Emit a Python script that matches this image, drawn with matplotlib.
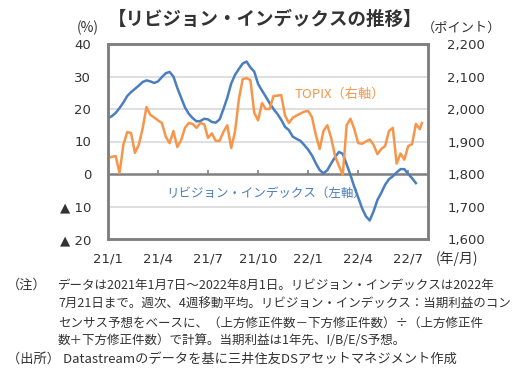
import matplotlib.pyplot as plt
import pandas as pd

plt.rcParams['font.family'] = ['Noto Sans CJK JP', 'DejaVu Sans']

# weekly dates (Thursday), TOPIX has one more point on 2022-08-01
rev_dates = pd.date_range('2021-01-07', periods=81, freq='7D')
topix_dates = list(pd.date_range('2021-01-07', periods=82, freq='7D')) + [pd.Timestamp('2022-08-01')]

# revision index (%), left axis
revision = [17.2, 17.8, 18.8, 20.3, 22.0, 24.0, 25.2, 26.2, 27.2, 28.3,
            28.8, 28.5, 28.0, 28.5, 29.8, 31.0, 31.4, 30.0, 26.5, 23.5,
            20.5, 18.5, 17.2, 16.2, 16.3, 17.0, 16.8, 16.0, 15.8, 16.8,
            20.0, 23.5, 27.8, 30.5, 32.3, 34.0, 34.6, 32.8, 31.5, 27.7,
            25.7, 23.8, 21.8, 20.0, 18.5, 16.7, 14.5, 13.5, 11.5, 10.8,
            10.2, 8.9, 7.5, 5.7, 3.3, 1.2, 0.2, 1.2, 3.3, 5.2,
            6.8, 6.2, 3.0, -0.3, -4.0, -7.2, -10.5, -13.0, -14.3, -11.5,
            -8.0, -5.8, -3.3, -1.6, -0.7, 0.5, 1.5, 1.5, 0.0, -1.3,
            -2.8]

# TOPIX (points), right axis
topix = [1849, 1853, 1855, 1803, 1890, 1929, 1926, 1865, 1890, 1940,
         2006, 1982, 1974, 1965, 1957, 1915, 1895, 1932, 1883, 1904,
         1942, 1957, 1954, 1942, 1957, 1953, 1911, 1925, 1902, 1902,
         1930, 1950, 1880, 1930, 2030, 2092, 2095, 2089, 1988, 1965,
         2018, 2000, 2000, 2040, 2041, 2043, 1980, 1957, 1973, 1980,
         1986, 1992, 1994, 1975, 1920, 1877, 1933, 1950, 1910, 1855,
         1825, 1797, 1950, 1970, 1938, 1895, 1893, 1900, 1906, 1890,
         1861, 1877, 1886, 1932, 1942, 1832, 1863, 1844, 1886, 1892,
         1954, 1938, 1957]

left_ticks = [40, 30, 20, 10, 0, -10, -20]
left_labels = ['40', '30', '20', '10', '0', '▲ 10', '▲ 20']
right_ticks = [1600, 1700, 1800, 1900, 2000, 2100, 2200]
x_labels = ['21/1', '21/4', '21/7', '21/10', '22/1', '22/4', '22/7']
x_ticks = pd.date_range('2021-01-07', periods=7, freq='91D')

blue = '#4a7ebf'
orange = '#f7964a'
frame = '#7f7f7f'
txt = '#333333'

fig = plt.figure(figsize=(5.27, 3.76), dpi=100)
ax = fig.add_axes([108 / 527, 1 - 239 / 376, 320 / 527, 195 / 376])
ax2 = ax.twinx()

ax.set_ylim(-20, 40)
ax2.set_ylim(1600, 2200)
ax.set_xlim(pd.Timestamp('2021-01-07'), pd.Timestamp('2022-08-12'))

for y in [30, 20, 10, -10]:
    ax.axhline(y, color='#d9d9d9', lw=1.2, zorder=0)
ax.axhline(0, color=frame, lw=1.8, zorder=1)
ax.vlines(x_ticks, 0, 1.3, color=frame, lw=1.2)

ax.plot(rev_dates, revision, color=blue, lw=1.8, zorder=3)
ax2.plot(topix_dates, topix, color=orange, lw=1.8)

for a in (ax, ax2):
    for s in a.spines.values():
        s.set_color(frame)
        s.set_linewidth(1.8)

ax.set_yticks(left_ticks)
ax.set_yticklabels(left_labels, family='DejaVu Sans')
ax2.set_yticks(right_ticks)
ax2.set_yticklabels([f'{v:,}' for v in right_ticks], family='DejaVu Sans')
ax.set_xticks(x_ticks)
ax.set_xticklabels(x_labels, family='DejaVu Sans')
ax.tick_params(axis='y', length=0, labelsize=9.5, labelcolor=txt, pad=12)
ax2.tick_params(axis='y', length=0, labelsize=9.5, labelcolor=txt, pad=14)
ax.tick_params(axis='x', length=0, labelsize=9.5, labelcolor=txt, pad=10)

fig.text(265 / 527, 1 - 19 / 376, '【リビジョン・インデックスの推移】', ha='center', va='center',
         fontsize=13.3, fontweight='bold', color=txt)
fig.text(88 / 527, 1 - 28 / 376, '(%)', ha='center', va='center', fontsize=10, color=txt)
fig.text(462 / 527, 1 - 28 / 376, '（ポイント）', ha='center', va='center', fontsize=9.5, color=txt)
fig.text(457 / 527, 1 - 259 / 376, '(年/月)', ha='center', va='center', fontsize=10, color=txt)

fig.text(340 / 527, 1 - 94 / 376, 'TOPIX（右軸）', ha='center', va='center', fontsize=9.5, color=orange)
fig.text(266 / 527, 1 - 193 / 376, 'リビジョン・インデックス（左軸）', ha='center', va='center',
         fontsize=9, color=blue)

notes = ['データは2021年1月7日～2022年8月1日。リビジョン・インデックスは2022年',
         '7月21日まで。週次、4週移動平均。リビジョン・インデックス：当期利益のコン',
         'センサス予想をベースに、（上方修正件数－下方修正件数）÷（上方修正件',
         '数＋下方修正件数）で計算。当期利益は1年先、I/B/E/S予想。']
note_y = [285, 304, 323, 341]
fig.text(7 / 527, 1 - 285 / 376, '（注）', ha='left', va='center', fontsize=9.5, color=txt)
for t, y in zip(notes, note_y):
    fig.text(58 / 527, 1 - y / 376, t, ha='left', va='center', fontsize=9, color=txt)
fig.text(7 / 527, 1 - 359 / 376, '（出所） Datastreamのデータを基に三井住友DSアセットマネジメント作成',
         ha='left', va='center', fontsize=9.5, color=txt)

fig.savefig('out.png', dpi=100)
